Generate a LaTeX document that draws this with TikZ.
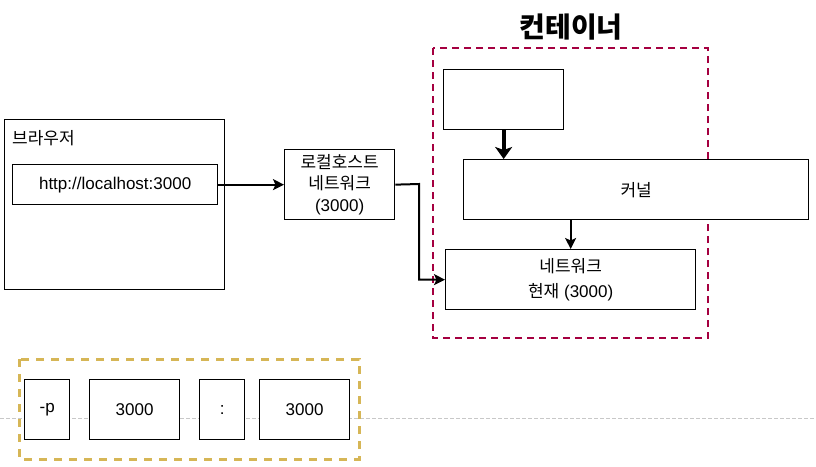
\documentclass[tikz,border=0pt]{standalone}
\usepackage{fontspec}
\setmainfont{Liberation Sans}
\newfontfamily\kr{Noto Sans CJK KR}
\usetikzlibrary{arrows.meta}
\definecolor{crim}{HTML}{A50040}
\definecolor{gold}{HTML}{D6B656}
\definecolor{guide}{HTML}{C8C8C8}
\tikzset{
  box/.style={draw=black, line width=1.3pt, fill=white, inner sep=0pt, align=center,
    anchor=north west, font=\fontsize{17}{21.5}\selectfont},
  arr/.style={line width=2pt, -{Stealth[length=11pt,width=11pt,inset=2.5pt]}},
  thickarr/.style={line width=4pt, -{Stealth[length=12pt,width=17pt,inset=3pt]}},
}
\begin{document}
\begin{tikzpicture}[x=1pt,y=-1pt]
\useasboundingbox (0,0) rectangle (816,466);
% faint guide line
\draw[guide, line width=1pt, dash pattern=on 4pt off 2pt] (0,418) coordinate (gl) -- (816,418) coordinate (gr);
% title
\node[font=\kr\bfseries\fontsize{28}{32}\selectfont] (title) at (571,27) {컨테이너};
% container dashed region
\draw[crim, line width=2pt, dash pattern=on 7pt off 5pt] (433,48) rectangle (708,338);
% browser
\node[box, minimum width=220, minimum height=170] (browser) at (4,119) {};
\node[anchor=west, inner sep=0pt, font=\kr\fontsize{17}{20}\selectfont] (blabel) at (12,138) {브라우저};
\node[box, minimum width=205, minimum height=40] (url) at (12,164) {http://localhost:3000};
% localhost network
\node[box, minimum width=110, minimum height=70] (local) at (284,149) {{\kr 로컬호스트}\\{\kr 네트워크}\\(3000)};
% container contents
\node[box, minimum width=120, minimum height=60] (empty) at (443,69) {};
\node[box, minimum width=345, minimum height=60] (kernel) at (463,159) {\kr 커널};
\node[box, minimum width=250, minimum height=60, font=\fontsize{17}{25}\selectfont] (net) at (445,249) {{\kr 네트워크}\\{\kr 현재} (3000)};
% connectors
\draw[arr] (url.east) -- (local.west);
\coordinate (bend) at (419,184);
\draw[arr] (local.east) -- (bend) |- (net.west);
\draw[thickarr] (empty.south) -- (empty.south |- kernel.north);
\draw[arr] (kernel.south -| net.north) -- (net.north);
% option boxes
\node[box, minimum width=45, minimum height=60] (p) at (24,379) {-p};
\node[box, minimum width=90, minimum height=60] (h1) at (89,379) {3000};
\node[box, minimum width=45, minimum height=60] (colon) at (199,379) {:};
\node[box, minimum width=90, minimum height=60] (h2) at (259,379) {3000};
\draw[gold, line width=3pt, dash pattern=on 8pt off 7pt] (19,359) rectangle (359,459);
\end{tikzpicture}
\end{document}
